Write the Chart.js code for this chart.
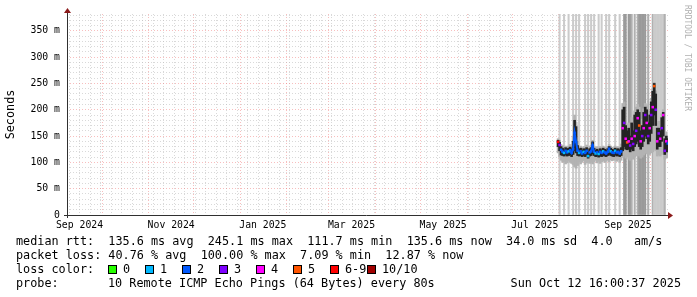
<!DOCTYPE html>
<html>
<head>
<meta charset="utf-8">
<title>Smokeping latency</title>
<script src="https://cdn.jsdelivr.net/npm/chart.js@4.4.1/dist/chart.umd.min.js"></script>
<style>
  body { margin: 0; background: #fff; }
  #wrap { position: relative; width: 697px; height: 297px; overflow: hidden;
          font-family: 'DejaVu Sans Mono', monospace; font-size: 11.8px; color: #000; }
  #wrap canvas { position: absolute; left: 0; top: 0; }
  .txt { position: absolute; white-space: pre; line-height: 14px; }
  .box { position: absolute; width: 7px; height: 7px; border: 1px solid #000; }
  #mark { position: absolute; left: 682px; top: 5px; writing-mode: vertical-rl;
          font-size: 8px; line-height: 10px; color: #b0b0b0; white-space: pre; }
</style>
</head>
<body>
<div id="wrap">
  <canvas id="canvas" width="697" height="297"></canvas>
  <div id="mark"></div>
</div>
<script>
// ---- data ----
var endTime = Date.UTC(2025, 9, 12, 16, 0, 37);
var spanDays = 400;

var sampleDates = ['2025-07-31',
  '2025-08-01','2025-08-02','2025-08-03','2025-08-04','2025-08-05','2025-08-06','2025-08-07','2025-08-08','2025-08-09','2025-08-10',
  '2025-08-11','2025-08-12','2025-08-13','2025-08-14','2025-08-15','2025-08-16','2025-08-17','2025-08-18','2025-08-19','2025-08-20',
  '2025-08-21','2025-08-22','2025-08-23','2025-08-24','2025-08-25','2025-08-26','2025-08-27','2025-08-28','2025-08-29','2025-08-30','2025-08-31',
  '2025-09-01','2025-09-02','2025-09-03','2025-09-04','2025-09-05','2025-09-06','2025-09-07','2025-09-08','2025-09-09','2025-09-10',
  '2025-09-11','2025-09-12','2025-09-13','2025-09-14','2025-09-15','2025-09-16','2025-09-17','2025-09-18','2025-09-19','2025-09-20',
  '2025-09-21','2025-09-22','2025-09-23','2025-09-24','2025-09-25','2025-09-26','2025-09-27','2025-09-28','2025-09-29','2025-09-30',
  '2025-10-01','2025-10-02','2025-10-03','2025-10-04','2025-10-05','2025-10-06','2025-10-07','2025-10-08','2025-10-09','2025-10-10',
  '2025-10-11','2025-10-12'];

// median rtt (ms)
var medianMs = [139,
  133,124,120,118,122,119,121,123,118,125,156,139,122,118,121,117,120,118,122,112,119,121,132,120,117,119,116,120,118,121,119,
  117,120,126,121,119,118,122,119,120,117,121,165,175,145,138,140,132,145,135,150,160,184,170,140,150,165,190,175,150,165,
  190,205,245,200,140,155,145,165,190,122,140,136];
// lost pings out of 10
var lossCount = [6,
  3,2,2,1,2,2,1,2,2,2,2,2,2,1,2,2,1,2,2,1,2,2,2,2,1,2,1,2,2,1,2,
  2,2,2,1,2,2,1,2,2,2,2,4,3,4,5,4,3,4,3,4,3,4,5,4,3,4,3,4,3,4,3,4,
  5,3,4,3,4,3,4,3,4,2,4,2];
// dense part of the smoke (ms)
var coreLow = [130,
  122,114,113,112,114,112,113,114,111,115,122,118,113,112,113,111,113,111,114,108,112,113,116,113,111,112,110,112,111,113,112,
  111,113,115,113,112,111,114,112,113,111,113,122,130,125,124,125,120,125,122,130,135,140,130,125,130,140,150,145,135,140,
  155,170,190,170,125,130,130,140,150,115,120,120];
var coreHigh = [142,
  138,130,127,124,128,126,127,129,126,140,180,168,132,125,127,123,126,125,128,121,126,128,139,127,123,125,122,126,124,127,125,
  123,126,130,127,125,124,127,125,126,124,128,200,205,170,160,165,150,175,160,190,195,200,195,160,170,195,205,200,175,190,
  215,235,250,230,165,165,160,185,195,145,150,145];
// full spread of the smoke (ms)
var smokeLow = [118,
  110,104,100,101,97,99,103,100,98,96,92,89,94,101,97,100,103,96,99,100,98,100,97,101,104,99,102,98,101,103,100,
  102,104,101,105,103,104,106,102,105,100,104,110,112,108,110,106,104,108,106,110,112,115,112,108,110,114,118,116,112,115,
  118,120,125,122,112,114,112,115,118,106,108,110];
var smokeHigh = [145,
  142,134,132,128,131,130,131,134,129,150,190,176,140,130,131,128,130,129,133,126,131,132,142,131,128,130,127,130,129,131,129,
  128,130,134,131,129,128,131,129,130,128,135,212,215,182,172,175,165,185,172,198,205,210,205,172,182,202,212,208,185,198,
  222,240,252,236,175,178,170,192,200,152,158,150];

// days with outage periods (full height bars) and their share of lost time (%)
var outageDates = ['2025-08-01','2025-08-04','2025-08-07','2025-08-10','2025-08-12','2025-08-14','2025-08-18','2025-08-20',
  '2025-08-22','2025-08-24','2025-08-27','2025-08-29','2025-09-01','2025-09-03','2025-09-07','2025-09-10',
  '2025-09-13','2025-09-14','2025-09-16','2025-09-17','2025-09-18','2025-09-20','2025-09-22',
  '2025-09-23','2025-09-24','2025-09-25','2025-09-26','2025-09-27','2025-09-29','2025-10-02',
  '2025-10-03','2025-10-04','2025-10-05','2025-10-06','2025-10-07','2025-10-08','2025-10-09','2025-10-10'];
var outageShare = [25,25,25,25,35,25,25,25,25,35,25,25,25,25,25,25,
  80,80,80,80,55,55,55,80,80,80,80,80,55,55,30,30,30,30,30,30,30,55];

// axis labels
var xLabelMonths = ['2024-09','2024-11','2025-01','2025-03','2025-05','2025-07','2025-09'];
var xLabels = ['Sep 2024','Nov 2024','Jan 2025','Mar 2025','May 2025','Jul 2025','Sep 2025'];
var yMax = 382;
var yLabelValues = [0,50,100,150,200,250,300,350];

// legend texts
var rttStats = ['135.6 ms avg','245.1 ms max','111.7 ms min','135.6 ms now','34.0 ms sd','4.0   am/s'];
var lossStats = ['40.76 % avg','100.00 % max','7.09 % min','12.87 % now'];
var lossLabels = ['0','1','2','3','4','5','6-9','10/10'];
var lossColors = ['#26ff00','#00b8ff','#0059ff','#7e00ff','#ff00ff','#ff5500','#ff0000','#a10000'];
var probeText = '10 Remote ICMP Echo Pings (64 Bytes) every 80s';
var stampText = 'Sun Oct 12 16:00:37 2025';
var watermark = 'RRDTOOL / TOBI OETIKER';

// ---- helpers ----
var DAY = 864e5;
var startTime = endTime - spanDays * DAY;
function dayOf(s) { return (Date.parse(s + 'T12:00:00Z') - startTime) / DAY; }
function lossClass(n) { return n >= 10 ? 7 : (n >= 6 ? 6 : n); }
function outageColor(p) { return p >= 70 ? '#9a9a9a' : (p >= 45 ? '#b0b0b0' : '#cbcbcb'); }

var xs = sampleDates.map(dayOf);
function range(lo, hi) { return xs.map(function (x, i) { return { x: x, y: [lo[i], hi[i]] }; }); }

// x ticks: weekly minor grid, monthly major grid, mid-month labels
var xTicks = [];
var monthStarts = {};
for (var y = 2024, m = 8; Date.UTC(y, m, 1) < endTime; m++) {
  if (m > 11) { m = 0; y++; }
  var t = Date.UTC(y, m, 1);
  if (t > startTime) { xTicks.push({ value: (t - startTime) / DAY, kind: 'month' }); monthStarts[(t - startTime) / DAY] = 1; }
}
for (var w = Date.UTC(2024, 8, 9); w < endTime; w += 7 * DAY) {
  var v = (w - startTime) / DAY;
  if (!monthStarts[v]) xTicks.push({ value: v, kind: 'week' });
}
xLabelMonths.forEach(function (s, i) {
  xTicks.push({ value: (Date.parse(s + '-01T00:00:00Z') - startTime) / DAY + 15, kind: 'label', text: xLabels[i] });
});
xTicks.sort(function (a, b) { return a.value - b.value; });

var yTicks = [];
for (var k = 0; k <= 380; k += 10) yTicks.push({ value: k });

var axisArrows = {
  id: 'axisArrows',
  afterDatasetsDraw: function (chart) {
    var a = chart.chartArea, c = chart.ctx;
    c.save();
    c.strokeStyle = '#303030';
    c.lineWidth = 1;
    c.beginPath();
    c.moveTo(a.left + 0.5, a.bottom + 3); c.lineTo(a.left + 0.5, a.top - 3);
    c.moveTo(a.left - 3, a.bottom + 0.5); c.lineTo(a.right + 1, a.bottom + 0.5);
    c.stroke();
    c.fillStyle = '#8b1a1a';
    c.beginPath();
    c.moveTo(a.left - 3, a.top - 1); c.lineTo(a.left + 4, a.top - 1); c.lineTo(a.left + 0.5, a.top - 6);
    c.closePath(); c.fill();
    c.beginPath();
    c.moveTo(a.right, a.bottom - 3); c.lineTo(a.right, a.bottom + 4); c.lineTo(a.right + 5, a.bottom + 0.5);
    c.closePath(); c.fill();
    c.restore();
  }
};

Chart.defaults.font.family = "'DejaVu Sans Mono', monospace";
Chart.defaults.color = '#000';

var minorGrid = 'rgba(185,185,185,0.55)';
var majorGrid = 'rgba(240,110,110,0.45)';

new Chart(document.getElementById('canvas').getContext('2d'), {
  type: 'bar',
  data: {
    datasets: [
      {
        label: 'outage', order: 4, grouped: false, barThickness: 1.4,
        data: outageDates.map(function (s) { return { x: dayOf(s), y: [0, yMax] }; }),
        backgroundColor: outageShare.map(outageColor)
      },
      {
        label: 'smoke', order: 3, grouped: false, barThickness: 2,
        data: range(smokeLow, smokeHigh), backgroundColor: '#b3b3b3'
      },
      {
        label: 'core', order: 2, grouped: false, barThickness: 2,
        data: range(coreLow, coreHigh), backgroundColor: '#242424'
      },
      {
        type: 'line', label: 'median', order: 1,
        data: xs.map(function (x, i) { return { x: x, y: medianMs[i] }; }),
        borderWidth: 2, tension: 0,
        pointStyle: 'rect', pointRadius: 1.8, pointBorderWidth: 0,
        pointBackgroundColor: lossCount.map(function (n) { return lossColors[lossClass(n)]; }),
        segment: {
          borderColor: function (ctx) {
            var a = lossClass(lossCount[ctx.p0DataIndex]), b = lossClass(lossCount[ctx.p1DataIndex]);
            return a === b ? lossColors[a] : 'rgba(0,0,0,0)';
          }
        }
      }
    ]
  },
  options: {
    responsive: false,
    animation: false,
    events: [],
    layout: { padding: { left: 0, top: 14, right: 29, bottom: 0 } },
    plugins: { legend: { display: false }, tooltip: { enabled: false } },
    scales: {
      x: {
        type: 'linear', min: 0, max: spanDays, offset: false,
        afterBuildTicks: function (scale) { scale.ticks = xTicks.map(function (t) { return Object.assign({}, t); }); },
        afterFit: function (scale) { scale.height = 82; },
        grid: {
          offset: false, drawTicks: false,
          color: function (ctx) {
            var k = ctx.tick && ctx.tick.kind;
            return k === 'month' ? majorGrid : (k === 'week' ? minorGrid : 'rgba(0,0,0,0)');
          }
        },
        border: { display: false, dash: [1, 2] },
        ticks: {
          autoSkip: false, maxRotation: 0, padding: 5,
          font: { size: 9.8 },
          callback: function (value, index, ticks) { return ticks[index].text || ''; }
        }
      },
      y: {
        min: 0, max: yMax,
        afterBuildTicks: function (scale) { scale.ticks = yTicks.map(function (t) { return { value: t.value }; }); },
        afterFit: function (scale) { scale.width = 67; },
        grid: {
          drawTicks: false,
          color: function (ctx) {
            var v = ctx.tick ? ctx.tick.value : 0;
            if (v === 0) return 'rgba(0,0,0,0)';
            return v % 50 === 0 ? majorGrid : minorGrid;
          }
        },
        border: { display: false, dash: [1, 2] },
        title: { display: true, text: 'Seconds', font: { size: 11.8 }, padding: { top: 4, bottom: 0 } },
        ticks: {
          autoSkip: false, padding: 7,
          font: { size: 9.8 },
          callback: function (value) {
            if (yLabelValues.indexOf(value) < 0) return '';
            return value === 0 ? '0' : value + ' m';
          }
        }
      }
    }
  },
  plugins: [axisArrows]
});

// ---- legend text below the graph ----
var wrap = document.getElementById('wrap');
function addText(str, left, top, right) {
  var d = document.createElement('div');
  d.className = 'txt';
  d.textContent = str;
  d.style.top = top + 'px';
  if (right !== undefined) d.style.right = right + 'px'; else d.style.left = left + 'px';
  wrap.appendChild(d);
}
addText('median rtt:  ' + rttStats.join('  '), 16, 234);
addText('packet loss: ' + lossStats.join('  '), 16, 248);
addText('loss color:', 16, 262);
lossLabels.forEach(function (lab, i) {
  var b = document.createElement('div');
  b.className = 'box';
  b.style.left = (108 + i * 37) + 'px';
  b.style.top = '265px';
  b.style.background = lossColors[i];
  wrap.appendChild(b);
  addText(lab, 123 + i * 37, 262);
});
addText('probe:', 16, 276);
addText(probeText, 108, 276);
addText(stampText, 0, 276, 16);
document.getElementById('mark').textContent = watermark;
</script>
</body>
</html>
